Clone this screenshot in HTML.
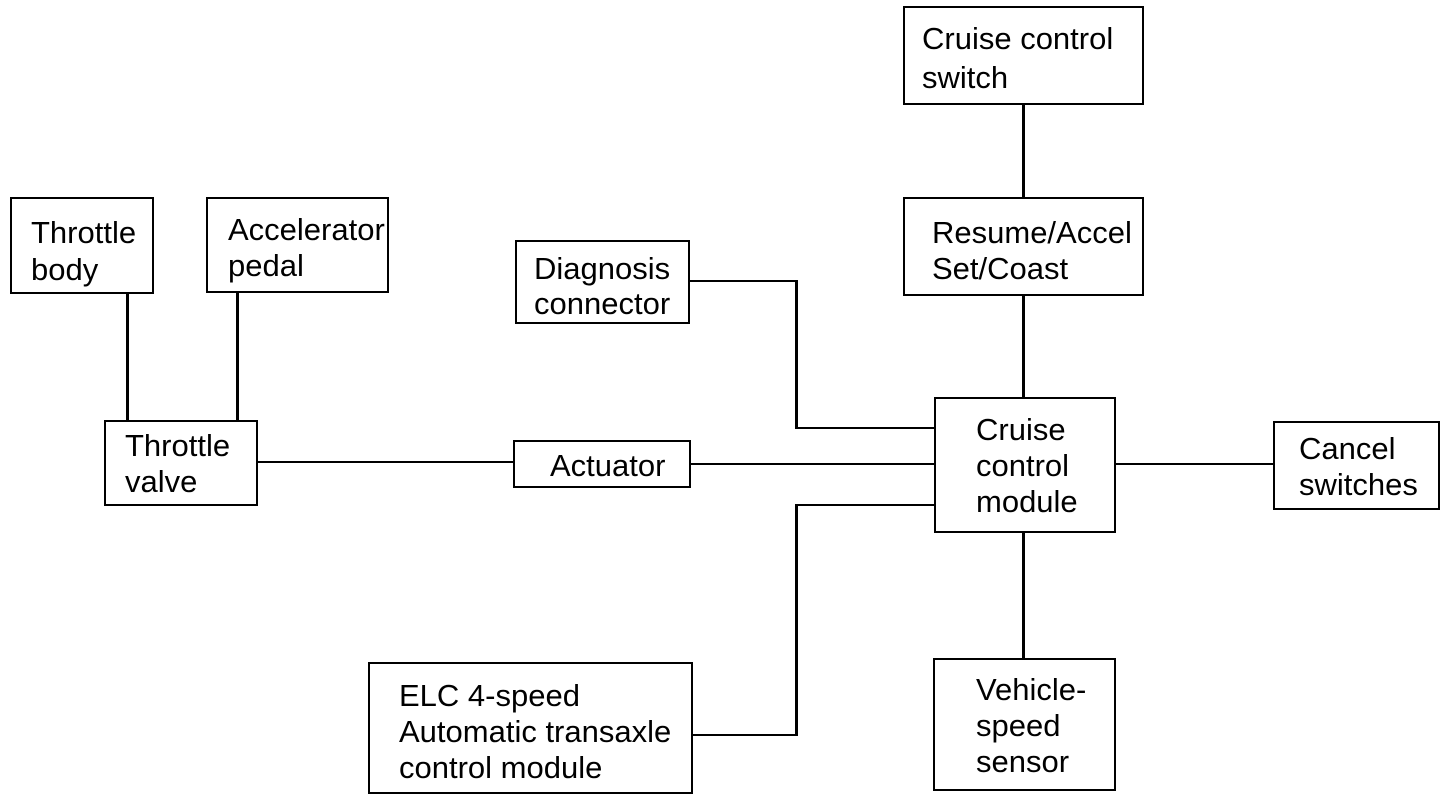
<!DOCTYPE html>
<html><head><meta charset="utf-8"><style>
html,body{margin:0;padding:0;background:#fff;}
body{width:1456px;height:802px;position:relative;overflow:hidden;font-family:"Liberation Sans",Arial,sans-serif;}
.b{position:absolute;border:2.5px solid #000;box-sizing:border-box;font-size:31px;line-height:36px;color:#000;}
.b span{position:absolute;white-space:nowrap;margin-top:2px;}
.h{position:absolute;height:2px;background:#000;}
.v{position:absolute;width:2.5px;background:#000;}
</style></head><body>
<div class="v" style="left:1022px;top:104px;height:94px"></div>
<div class="v" style="left:1022px;top:295px;height:103px"></div>
<div class="v" style="left:126px;top:293px;height:128px"></div>
<div class="v" style="left:236px;top:292px;height:129px"></div>
<div class="h" style="left:257px;top:461px;width:257px;height:1.5px"></div>
<div class="h" style="left:690px;top:463px;width:245px"></div>
<div class="h" style="left:689px;top:280px;width:108px"></div>
<div class="v" style="left:795px;top:280px;height:149px"></div>
<div class="h" style="left:795px;top:427px;width:140px"></div>
<div class="h" style="left:692px;top:734px;width:105px"></div>
<div class="v" style="left:795px;top:504px;height:232px"></div>
<div class="h" style="left:795px;top:504px;width:140px"></div>
<div class="h" style="left:1115px;top:463px;width:159px;height:1.5px"></div>
<div class="v" style="left:1022px;top:532px;height:127px"></div>
<div class="b" style="left:903px;top:6px;width:241px;height:99px"><span style="left:17px;top:9px;line-height:39px">Cruise control<br>switch</span></div>
<div class="b" style="left:903px;top:197px;width:241px;height:99px"><span style="left:27px;top:13.5px">Resume/Accel<br>Set/Coast</span></div>
<div class="b" style="left:10px;top:197px;width:144px;height:97px"><span style="left:19px;top:13px;line-height:37px">Throttle<br>body</span></div>
<div class="b" style="left:206px;top:197px;width:183px;height:96px"><span style="left:20px;top:10.5px">Accelerator<br>pedal</span></div>
<div class="b" style="left:515px;top:240px;width:175px;height:84px"><span style="left:17px;top:7px;line-height:35px">Diagnosis<br>connector</span></div>
<div class="b" style="left:104px;top:420px;width:154px;height:86px"><span style="left:19px;top:3.5px">Throttle<br>valve</span></div>
<div class="b" style="left:513px;top:440px;width:178px;height:48px"><span style="left:35px;top:3.5px">Actuator</span></div>
<div class="b" style="left:934px;top:397px;width:182px;height:136px"><span style="left:40px;top:10.5px">Cruise<br>control<br>module</span></div>
<div class="b" style="left:1273px;top:421px;width:167px;height:89px"><span style="left:24px;top:5.5px">Cancel<br>switches</span></div>
<div class="b" style="left:368px;top:662px;width:325px;height:132px"><span style="left:29px;top:11.5px">ELC 4-speed<br>Automatic transaxle<br>control module</span></div>
<div class="b" style="left:933px;top:658px;width:183px;height:133px"><span style="left:41px;top:9.5px">Vehicle-<br>speed<br>sensor</span></div>
</body></html>
